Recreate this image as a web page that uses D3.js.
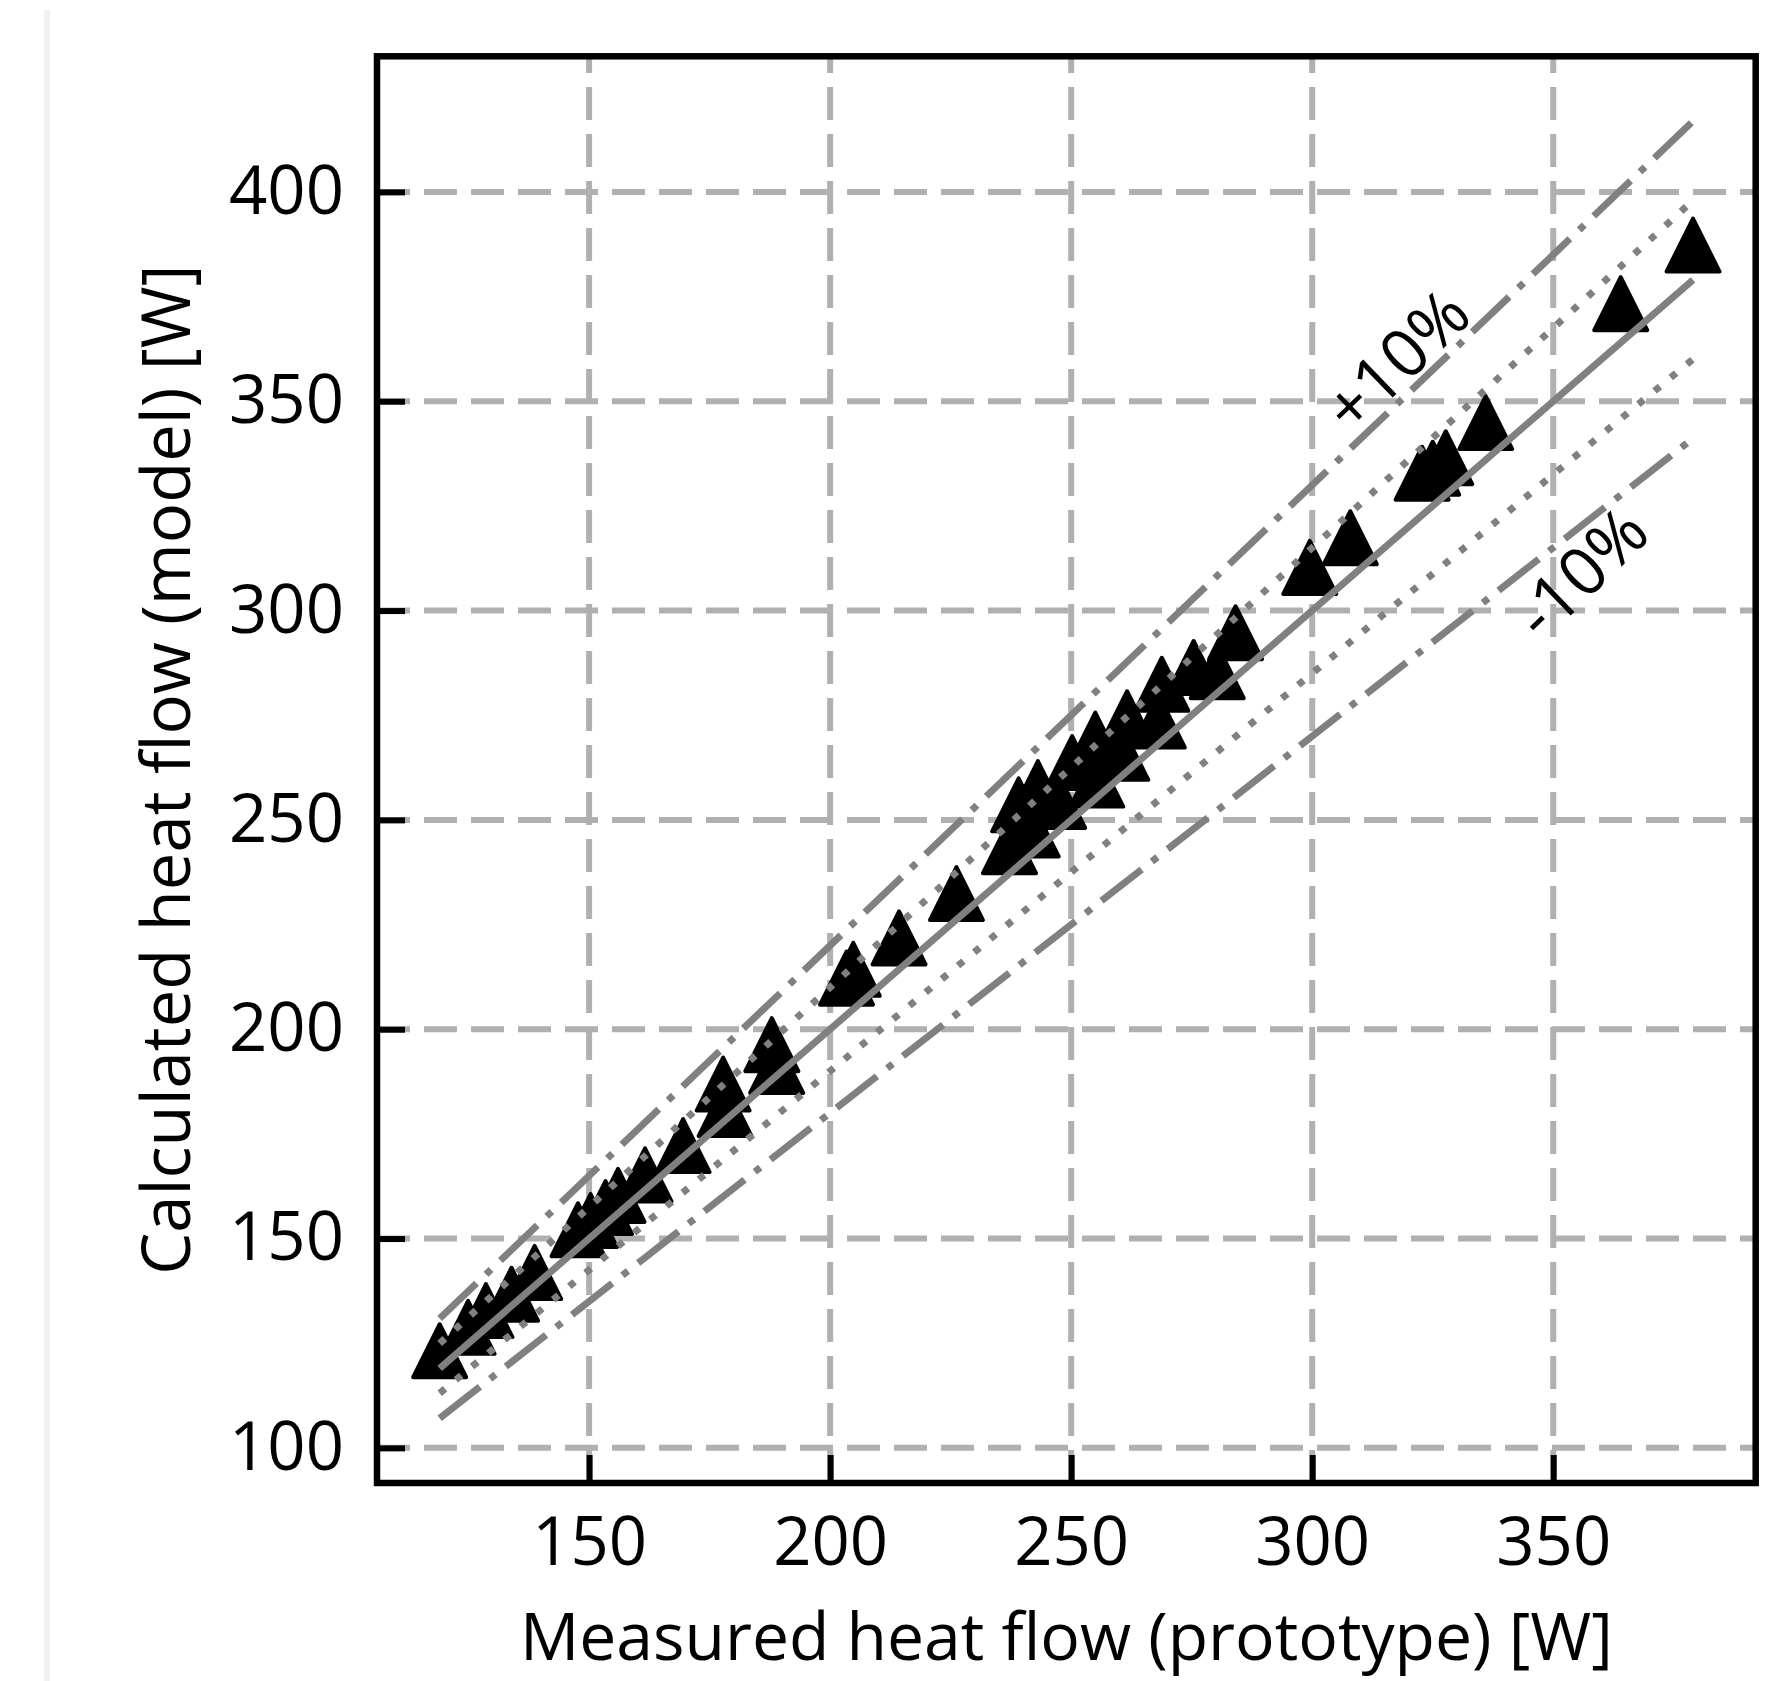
<html>

<head>
    <style>
        body {
            margin: 0;
            background-color: white;
        }

        text {
            font-family: "Open Sans", sans-serif;
        }
    </style>
</head>

<body>
    <svg id="container" width="1781" height="1681" xmlns="http://www.w3.org/2000/svg" version="1.1">
        <rect x="44" y="10" width="6" height="1671" fill="#f1f1f1"></rect>
        <g id="grid"></g>
        <g id="xAxis"></g>
        <g id="yAxis"></g>
        <g id="points"></g>
        <g id="lines"></g>
        <g id="notes"></g>
        <g id="frame"></g>
    </svg>
</body>
<script src="https://cdn.jsdelivr.net/npm/d3@7/dist/d3.min.js"></script>
<script>
    // measured (prototype) vs calculated (model) heat flow, W
    let measured = [119.0, 124.9, 128.6, 133.9, 138.7, 147.7, 150.3, 153.4, 156.0, 161.6,
        169.5, 177.8, 178.2, 187.9, 188.9, 203.4, 204.8, 214.3, 226.2, 237.2,
        239.1, 241.9, 243.1, 247.4, 250.2, 255.3, 255.0, 260.5, 261.6, 268.1,
        268.8, 275.4, 280.3, 284.1, 299.5, 307.9, 322.8, 325.0, 327.7, 336.0,
        364.0, 379.0]
    let calculated = [123.2, 128.8, 132.8, 136.7, 141.9, 152.1, 154.3, 157.4, 160.3, 165.2,
        172.2, 186.9, 180.8, 196.3, 191.1, 212.2, 214.3, 221.8, 232.4, 243.6,
        253.6, 247.6, 257.7, 254.4, 263.7, 259.5, 269.3, 265.9, 274.4, 273.6,
        282.4, 286.4, 285.4, 294.7, 310.3, 317.4, 332.8, 334.0, 336.5, 344.9,
        373.3, 387.3]

    let xTicks = [150, 200, 250, 300, 350]
    let yTicks = [100, 150, 200, 250, 300, 350, 400]

    // y = f * x reference lines
    let bandFactors = [1.0, 1.05, 0.95, 1.1, 0.9]
    let bandNames = ["+10%", "-10%"]

    let xTitle = "Measured heat flow (prototype) [W]"
    let yTitle = "Calculated heat flow (model) [W]"

    let plotLeft = 377, plotRight = 1755.7, plotTop = 56.3, plotBottom = 1483
    let fontSize = 67

    let xExt = d3.extent(measured)
    let yExt = [xExt[0] * 0.9, xExt[1] * 1.1]
    let xPad = (xExt[1] - xExt[0]) * 0.05
    let yPad = (yExt[1] - yExt[0]) * 0.05

    let xScale = d3.scaleLinear().domain([xExt[0] - xPad, xExt[1] + xPad]).range([plotLeft, plotRight])
    let yScale = d3.scaleLinear().domain([yExt[0] - yPad, yExt[1] + yPad]).range([plotBottom, plotTop])

    let svg = d3.select("#container")

    // grid
    let grid = d3.select("#grid")
    grid.selectAll("line.h")
        .data(yTicks)
        .enter()
        .append("line")
        .attr("class", "h")
        .attr("x1", plotLeft).attr("x2", plotRight)
        .attr("y1", d => yScale(d)).attr("y2", d => yScale(d))
    grid.selectAll("line.v")
        .data(xTicks)
        .enter()
        .append("line")
        .attr("class", "v")
        .attr("x1", d => xScale(d)).attr("x2", d => xScale(d))
        .attr("y1", plotBottom).attr("y2", plotTop)
    grid.selectAll("line")
        .style("stroke", "#b0b0b0")
        .style("stroke-width", 6)
        .style("stroke-dasharray", "33 14")

    // axes, ticks pointing inward
    let xAxis = d3.axisBottom(xScale).tickValues(xTicks).tickSize(-28).tickPadding(34)
    d3.select("#xAxis")
        .attr("transform", `translate(0, ${plotBottom})`)
        .call(xAxis)
    let yAxis = d3.axisLeft(yScale).tickValues(yTicks).tickSize(-28).tickPadding(33)
    d3.select("#yAxis")
        .attr("transform", `translate(${plotLeft}, 0)`)
        .call(yAxis)

    svg.selectAll(".domain").remove()
    svg.selectAll(".tick line")
        .style("stroke", "black")
        .style("stroke-width", 6)
    svg.selectAll(".tick text")
        .style("font-size", fontSize + "px")
        .style("font-family", "'Open Sans', sans-serif")
        .style("fill", "black")

    // triangle markers like matplotlib '^'
    let half = 26.5
    let triangle = {
        draw(context, size) {
            context.moveTo(0, -half)
            context.lineTo(half, half)
            context.lineTo(-half, half)
            context.closePath()
        }
    }
    let points = measured.map((m, i) => [m, calculated[i]])
    d3.select("#points").selectAll("path")
        .data(points)
        .enter()
        .append("path")
        .attr("d", d3.symbol().type(triangle))
        .attr("transform", d => `translate(${xScale(d[0])}, ${yScale(d[1])})`)
        .style("fill", "black")
        .style("stroke", "black")
        .style("stroke-width", 4)
        .style("stroke-linejoin", "round")

    // reference lines
    let dashes = ["none", "7 14", "7 14", "51 13 7 13", "51 13 7 13"]
    let line = d3.line().x(d => xScale(d[0])).y(d => yScale(d[1]))
    d3.select("#lines").selectAll("path")
        .data(bandFactors)
        .enter()
        .append("path")
        .attr("d", f => line([[xExt[0], xExt[0] * f], [xExt[1], xExt[1] * f]]))
        .style("fill", "none")
        .style("stroke", "#808080")
        .style("stroke-width", 7)
        .style("stroke-dasharray", (f, i) => dashes[i])

    // band labels
    let notePos = [[317.2, 360.1], [355.4, 309.4]]
    d3.select("#notes").selectAll("text")
        .data(bandNames)
        .enter()
        .append("text")
        .text(d => d)
        .attr("transform", (d, i) => `translate(${xScale(notePos[i][0])}, ${yScale(notePos[i][1])}) rotate(-44)`)
        .attr("text-anchor", "middle")
        .attr("dominant-baseline", "central")
        .style("font-size", fontSize + "px")

    // frame
    d3.select("#frame").append("rect")
        .attr("x", plotLeft).attr("y", plotTop)
        .attr("width", plotRight - plotLeft).attr("height", plotBottom - plotTop)
        .style("fill", "none")
        .style("stroke", "black")
        .style("stroke-width", 6.5)

    // axis titles
    svg.append("text")
        .text(xTitle)
        .attr("x", (plotLeft + plotRight) / 2)
        .attr("y", 1660)
        .attr("text-anchor", "middle")
        .style("font-size", "66px")

    svg.append("text")
        .text(yTitle)
        .attr("transform", `translate(190, ${(plotTop + plotBottom) / 2}) rotate(-90)`)
        .attr("text-anchor", "middle")
        .style("font-size", fontSize + "px")
</script>

</html>
